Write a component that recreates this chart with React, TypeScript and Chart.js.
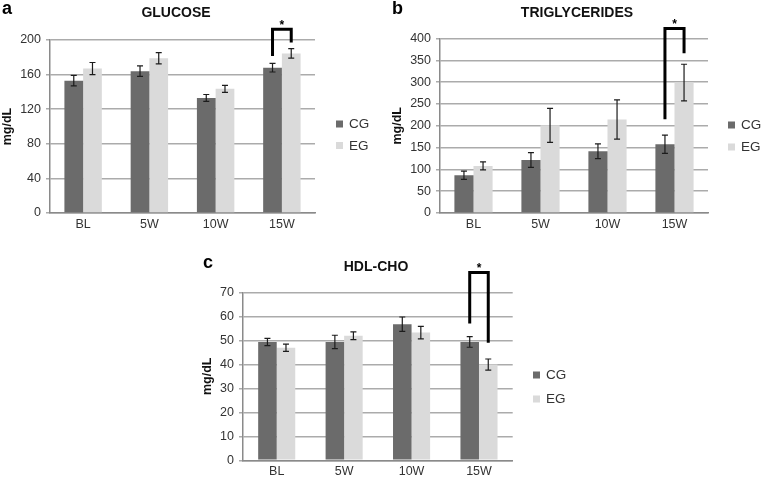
import React, { useEffect, useRef } from "react";
import { Chart, registerables } from "chart.js";

Chart.register(...registerables);
Chart.defaults.font.family = '"Liberation Sans", Arial, Helvetica, sans-serif';

// ---------- data ----------
const categories = ["BL", "5W", "10W", "15W"];
const seriesNames = ["CG", "EG"];

const glucoseCG = [153, 164, 133, 168];
const glucoseCGErr = [6, 6, 4, 5];
const glucoseEG = [167, 179, 143.5, 184.5];
const glucoseEGErr = [7, 6.5, 4, 5.5];
const glucoseTicks = [0, 40, 80, 120, 160, 200];
const glucoseBracket = [212.5, 181.5, 197]; // top, CG end, EG end

const trigCG = [86.5, 121.5, 141.5, 157.5];
const trigCGErr = [9.5, 17, 17, 21];
const trigEG = [108, 201, 214.5, 299];
const trigEGErr = [9, 39, 45, 42];
const trigTicks = [0, 50, 100, 150, 200, 250, 300, 350, 400];
const trigBracket = [423, 215, 366];

const hdlCG = [49.3, 49.3, 56.7, 49.3];
const hdlCGErr = [1.5, 2.8, 3, 2.2];
const hdlEG = [46.9, 51.9, 53.2, 39.9];
const hdlEGErr = [1.5, 1.6, 2.6, 2.3];
const hdlTicks = [0, 10, 20, 30, 40, 50, 60, 70];
const hdlBracket = [78.3, 57, 49];

const bracketCategory = "15W";
const panelLetters = ["a", "b", "c"];
const panelTitles = ["GLUCOSE", "TRIGLYCERIDES", "HDL-CHO"];
const yTitle = "mg/dL";

const CG_COLOR = "#6b6b6b";
const EG_COLOR = "#dadada";
const FONT = '"Liberation Sans", Arial, Helvetica, sans-serif';

const panelPlugin = {
  id: "panelDecor",
  afterDraw(chart: any, _args: any, o: any) {
    const ctx = chart.ctx as CanvasRenderingContext2D;
    const ys = chart.scales.y;
    ctx.save();
    // error bars
    o.errors.forEach((errs: number[], di: number) => {
      const meta = chart.getDatasetMeta(di);
      const vals = chart.data.datasets[di].data as number[];
      meta.data.forEach((el: any, i: number) => {
        const v = vals[i];
        const e = errs[i];
        const x = el.x;
        const yt = ys.getPixelForValue(v + e);
        const yb = ys.getPixelForValue(v - e);
        ctx.strokeStyle = "#1c1c1c";
        ctx.lineWidth = 1.2;
        ctx.beginPath();
        ctx.moveTo(x, yt);
        ctx.lineTo(x, yb);
        ctx.moveTo(x - 3, yt);
        ctx.lineTo(x + 3, yt);
        ctx.moveTo(x - 3, yb);
        ctx.lineTo(x + 3, yb);
        ctx.stroke();
      });
    });
    // significance bracket
    const idx = categories.indexOf(bracketCategory);
    const [top, lEnd, rEnd] = o.bracket;
    const xl = chart.getDatasetMeta(0).data[idx].x;
    const xr = chart.getDatasetMeta(1).data[idx].x;
    const yTop = ys.getPixelForValue(top);
    ctx.strokeStyle = "#000";
    ctx.lineWidth = 3;
    ctx.lineJoin = "miter";
    ctx.beginPath();
    ctx.moveTo(xl, ys.getPixelForValue(lEnd));
    ctx.lineTo(xl, yTop);
    ctx.lineTo(xr, yTop);
    ctx.lineTo(xr, ys.getPixelForValue(rEnd));
    ctx.stroke();
    ctx.fillStyle = "#000";
    ctx.font = `bold 12px ${FONT}`;
    ctx.textAlign = "center";
    ctx.textBaseline = "alphabetic";
    ctx.fillText("*", (xl + xr) / 2, yTop);
    // title
    ctx.font = `bold 14px ${FONT}`;
    ctx.textBaseline = "middle";
    ctx.fillStyle = "#111";
    ctx.fillText(o.title, o.titleX, o.titleY);
    // panel letter
    ctx.font = `bold 18px ${FONT}`;
    ctx.textAlign = "left";
    ctx.textBaseline = "alphabetic";
    ctx.fillStyle = "#000";
    ctx.fillText(o.letter, o.letterX, o.letterY);
    // legend
    ctx.font = `13.5px ${FONT}`;
    ctx.textBaseline = "middle";
    seriesNames.forEach((name, i) => {
      const cy = o.legendY[i];
      ctx.fillStyle = i === 0 ? CG_COLOR : EG_COLOR;
      ctx.fillRect(o.legendX, cy - 3.5, 7, 7);
      ctx.fillStyle = "#333";
      ctx.fillText(name, o.legendX + 13, cy + 0.5);
    });
    ctx.restore();
  },
};

type PanelCfg = {
  left: number;
  top: number;
  width: number;
  height: number;
  cg: number[];
  eg: number[];
  cgErr: number[];
  egErr: number[];
  ticks: number[];
  bracket: number[];
  letter: string;
  title: string;
  yAxisW: number;
  padTop: number;
  padRight: number;
  xAxisH: number;
  catPct: number;
  yTitlePad: number;
  xTickPad: number;
  titleX: number;
  titleY: number;
  letterX: number;
  letterY: number;
  legendX: number;
  legendY: number[];
};

function Panel({ cfg }: { cfg: PanelCfg }) {
  const ref = useRef<HTMLCanvasElement | null>(null);
  useEffect(() => {
    if (!ref.current) return;
    const chart = new Chart(ref.current, {
      type: "bar",
      data: {
        labels: categories,
        datasets: [
          {
            label: seriesNames[0],
            data: cfg.cg,
            backgroundColor: CG_COLOR,
            borderWidth: 0,
            barPercentage: 1,
            categoryPercentage: cfg.catPct,
          },
          {
            label: seriesNames[1],
            data: cfg.eg,
            backgroundColor: EG_COLOR,
            borderWidth: 0,
            barPercentage: 1,
            categoryPercentage: cfg.catPct,
          },
        ],
      },
      options: {
        responsive: false,
        animation: false,
        devicePixelRatio: 1,
        layout: { padding: { left: 0, top: cfg.padTop, right: cfg.padRight, bottom: 0 } },
        plugins: {
          legend: { display: false },
          tooltip: { enabled: false },
          panelDecor: {
            errors: [cfg.cgErr, cfg.egErr],
            bracket: cfg.bracket,
            title: cfg.title,
            titleX: cfg.titleX,
            titleY: cfg.titleY,
            letter: cfg.letter,
            letterX: cfg.letterX,
            letterY: cfg.letterY,
            legendX: cfg.legendX,
            legendY: cfg.legendY,
          },
        } as any,
        scales: {
          x: {
            grid: { display: false, drawTicks: false },
            border: { display: true, color: "#8a8a8a", width: 1.5 },
            ticks: { color: "#333", font: { size: 12.5 }, padding: cfg.xTickPad },
            afterFit: (s: any) => {
              s.height = cfg.xAxisH;
            },
          },
          y: {
            min: cfg.ticks[0],
            max: cfg.ticks[cfg.ticks.length - 1],
            ticks: {
              stepSize: cfg.ticks[1] - cfg.ticks[0],
              color: "#333",
              font: { size: 12.5 },
              padding: 5,
            },
            grid: { color: "#ababab", lineWidth: 1.5, tickLength: 4, drawTicks: true },
            border: { display: true, color: "#8a8a8a", width: 1.5 },
            title: {
              display: true,
              text: yTitle,
              color: "#111",
              font: { size: 12.5, weight: "bold" },
              padding: { top: cfg.yTitlePad, bottom: 0 },
            },
            afterFit: (s: any) => {
              s.width = cfg.yAxisW;
            },
          },
        },
      } as any,
      plugins: [panelPlugin as any],
    });
    return () => chart.destroy();
  }, [cfg]);
  return (
    <canvas
      ref={ref}
      width={cfg.width}
      height={cfg.height}
      style={{ position: "absolute", left: cfg.left, top: cfg.top, width: cfg.width, height: cfg.height }}
    />
  );
}

const panels: PanelCfg[] = [
  {
    left: 0, top: 0, width: 380, height: 240,
    cg: glucoseCG, eg: glucoseEG, cgErr: glucoseCGErr, egErr: glucoseEGErr,
    ticks: glucoseTicks, bracket: glucoseBracket,
    letter: panelLetters[0], title: panelTitles[0],
    yAxisW: 50, padTop: 40, padRight: 65, xAxisH: 27, catPct: 0.565,
    yTitlePad: 0, xTickPad: 4,
    titleX: 176, titleY: 13.5, letterX: 2, letterY: 13.5,
    legendX: 336, legendY: [124, 145.5],
  },
  {
    left: 380, top: 0, width: 382, height: 240,
    cg: trigCG, eg: trigEG, cgErr: trigCGErr, egErr: trigEGErr,
    ticks: trigTicks, bracket: trigBracket,
    letter: panelLetters[1], title: panelTitles[1],
    yAxisW: 60, padTop: 38.5, padRight: 54, xAxisH: 27, catPct: 0.57,
    yTitlePad: 10, xTickPad: 4,
    titleX: 197, titleY: 13.5, letterX: 12, letterY: 13.5,
    legendX: 348, legendY: [125, 147],
  },
  {
    left: 190, top: 240, width: 400, height: 243,
    cg: hdlCG, eg: hdlEG, cgErr: hdlCGErr, egErr: hdlEGErr,
    ticks: hdlTicks, bracket: hdlBracket,
    letter: panelLetters[2], title: panelTitles[2],
    yAxisW: 53, padTop: 52.3, padRight: 77.3, xAxisH: 22.7, catPct: 0.55,
    yTitlePad: 10, xTickPad: 4,
    titleX: 186, titleY: 27, letterX: 13, letterY: 28,
    legendX: 343, legendY: [135, 159],
  },
];

export default function App() {
  return (
    <div style={{ position: "fixed", left: 0, top: 0, width: 762, height: 483, background: "#fff" }}>
      {panels.map((p, i) => (
        <Panel key={i} cfg={p} />
      ))}
    </div>
  );
}
